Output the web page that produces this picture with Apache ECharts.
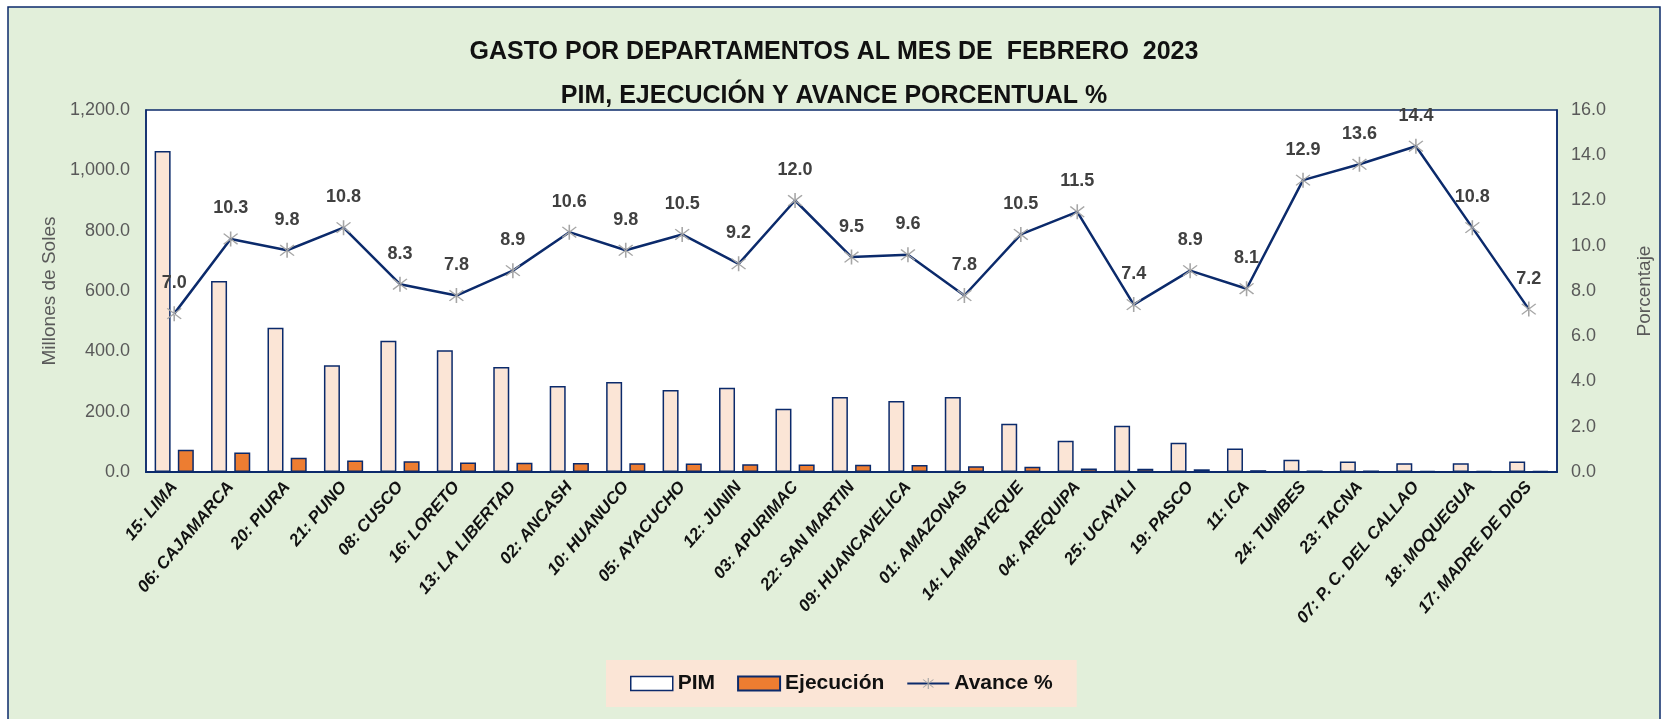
<!DOCTYPE html>
<html>
<head>
<meta charset="utf-8">
<script src="https://cdn.jsdelivr.net/npm/echarts@6/dist/echarts.min.js"></script>
<style>
html, body { margin: 0; padding: 0; background: #ffffff; }
#main { width: 1668px; height: 719px; }
</style>
</head>
<body>
<div id="main"></div>
<script>
// datos
let departamentos = ['15: LIMA', '06: CAJAMARCA', '20: PIURA', '21: PUNO', '08: CUSCO', '16: LORETO', '13: LA LIBERTAD', '02: ANCASH', '10: HUANUCO', '05: AYACUCHO', '12: JUNIN', '03: APURIMAC', '22: SAN MARTIN', '09: HUANCAVELICA', '01: AMAZONAS', '14: LAMBAYEQUE', '04: AREQUIPA', '25: UCAYALI', '19: PASCO', '11: ICA', '24: TUMBES', '23: TACNA', '07: P. C. DEL CALLAO', '18: MOQUEGUA', '17: MADRE DE DIOS'];
let pim = [1064, 633, 478, 354, 435, 404, 348, 285, 298, 272, 279, 210, 249, 235, 249, 160, 104, 153, 97, 78, 41, 35, 29, 29, 35];
let ejecucion = [74, 65, 47, 38, 36, 31.5, 31, 30, 29, 28.5, 26, 25, 24, 23, 19, 17, 12, 11, 9, 6, 5, 5, 4, 3, 2.5];
let avance = [7.0, 10.3, 9.8, 10.8, 8.3, 7.8, 8.9, 10.6, 9.8, 10.5, 9.2, 12.0, 9.5, 9.6, 7.8, 10.5, 11.5, 7.4, 8.9, 8.1, 12.9, 13.6, 14.4, 10.8, 7.2];

let fuente = '"Liberation Sans Narrow", "Liberation Sans", sans-serif';
let azul = '#0B2A6B';

// asterisco del marcador
let asterisco = 'path://M-0.8,-10 L0.8,-10 L0.8,10 L-0.8,10 Z M-7.6,-6.5 L6.5,7.6 L7.6,6.5 L-6.5,-7.6 Z M6.5,-7.6 L7.6,-6.5 L-6.5,7.6 L-7.6,6.5 Z';

let myChart = echarts.init(document.getElementById('main'));
let option = {
  backgroundColor: '#ffffff',
  textStyle: { fontFamily: fuente },
  graphic: [{
    type: 'rect', z: -10,
    shape: { x: 8, y: 7, width: 1652, height: 720 },
    style: { fill: '#E2EFDA', stroke: azul, lineWidth: 1.5 }
  }],
  title: [{
    text: 'GASTO POR DEPARTAMENTOS AL MES DE  FEBRERO  2023',
    left: 'center', top: 35,
    textStyle: { fontFamily: fuente, fontSize: 25, fontWeight: 'bold', color: '#111111' }
  }, {
    text: 'PIM, EJECUCIÓN Y AVANCE PORCENTUAL %',
    left: 'center', top: 79,
    textStyle: { fontFamily: fuente, fontSize: 25, fontWeight: 'bold', color: '#111111' }
  }],
  legend: {
    left: 606, top: 660,
    padding: [13, 24, 13, 24],
    backgroundColor: '#FBE5D6',
    itemWidth: 42, itemHeight: 14, itemGap: 22,
    textStyle: { fontFamily: fuente, fontSize: 21, fontWeight: 'bold', color: '#111111' },
    data: [
      { name: 'PIM', icon: 'rect', itemStyle: { color: '#FFFFFF', borderColor: azul, borderWidth: 1.5 } },
      { name: 'Ejecución', icon: 'rect' },
      { name: 'Avance %' }
    ]
  },
  grid: {
    left: 146, right: 111, top: 110, bottom: 247,
    show: true, backgroundColor: '#ffffff', borderColor: azul, borderWidth: 1.5
  },
  xAxis: {
    type: 'category',
    data: departamentos,
    axisLine: { lineStyle: { color: azul, width: 2 } },
    axisTick: { show: false },
    axisLabel: {
      rotate: 50, interval: 0, margin: 12,
      fontFamily: fuente, fontSize: 17, fontWeight: 'bold', fontStyle: 'italic', color: '#111111'
    }
  },
  yAxis: [{
    type: 'value', min: 0, max: 1200, interval: 200,
    name: 'Millones de Soles', nameLocation: 'middle', nameGap: 86,
    nameTextStyle: { fontFamily: fuente, fontSize: 19, color: '#595959' },
    axisLine: { show: true, lineStyle: { color: azul, width: 1.5 } },
    axisTick: { show: false },
    splitLine: { show: false },
    axisLabel: {
      fontSize: 18, color: '#595959', margin: 16,
      formatter: v => v.toLocaleString('en-US', { minimumFractionDigits: 1, maximumFractionDigits: 1 })
    }
  }, {
    type: 'value', min: 0, max: 16, interval: 2,
    name: 'Porcentaje', nameLocation: 'middle', nameGap: 78,
    nameTextStyle: { fontFamily: fuente, fontSize: 19, color: '#595959' },
    axisLine: { show: true, lineStyle: { color: azul, width: 1.5 } },
    axisTick: { show: false },
    splitLine: { show: false },
    axisLabel: { fontSize: 18, color: '#595959', margin: 14, formatter: v => v.toFixed(1) }
  }],
  series: [{
    name: 'PIM', type: 'bar', data: pim,
    barWidth: 16, barGap: '45%',
    itemStyle: { color: '#FBE5D6', borderColor: azul, borderWidth: 1.5 }
  }, {
    name: 'Ejecución', type: 'bar', data: ejecucion,
    barWidth: 16, barGap: '45%',
    itemStyle: { color: '#ED7D31', borderColor: azul, borderWidth: 1.5 }
  }, {
    name: 'Avance %', type: 'line', yAxisIndex: 1, data: avance,
    symbol: asterisco, symbolSize: 15,
    lineStyle: { color: azul, width: 2.5 },
    itemStyle: { color: '#A6A6A6' },
    label: {
      show: true, position: 'top', distance: 14,
      fontFamily: fuente, fontSize: 18, fontWeight: 'bold', color: '#404040',
      formatter: p => p.value.toFixed(1)
    },
    z: 5
  }]
};
myChart.setOption(option);
</script>
</body>
</html>
